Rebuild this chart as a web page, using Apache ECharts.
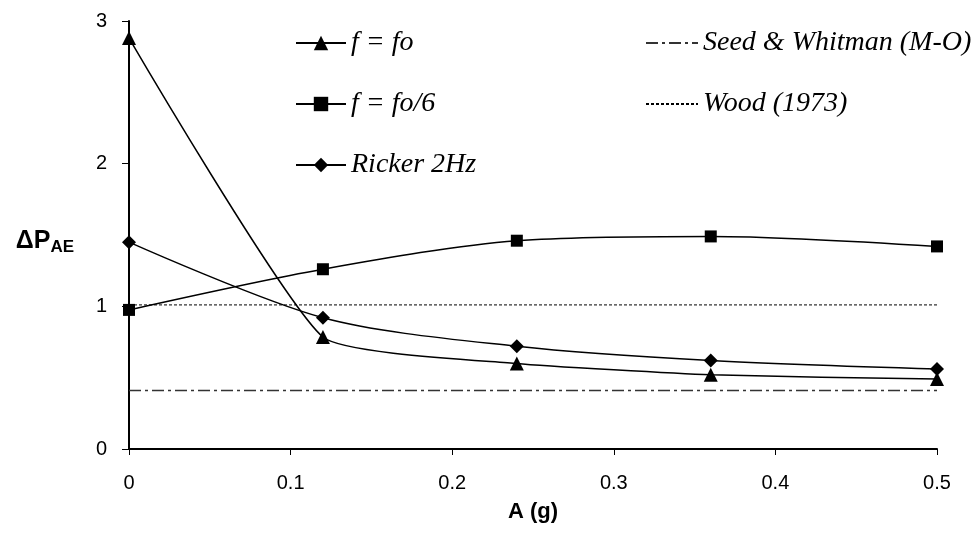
<!DOCTYPE html>
<html>
<head>
<meta charset="utf-8">
<script src="https://cdn.jsdelivr.net/npm/echarts@6/dist/echarts.min.js"></script>
<style>
  html, body { margin: 0; padding: 0; background: #fff; }
  #chart { width: 976px; height: 536px; }
</style>
</head>
<body>
<div id="chart"></div>
<script>
// 数据：横轴加速度 A(g)
const accel = [0, 0.12, 0.24, 0.36, 0.5]
const fFo = [2.88, 0.785, 0.60, 0.52, 0.49]
const fFo6 = [0.975, 1.26, 1.46, 1.49, 1.42]
const ricker = [1.45, 0.92, 0.72, 0.62, 0.56]
// 参考线
const seedWhitman = 0.41
const wood = 1.01
const xTicks = [0, 0.1, 0.2, 0.3, 0.4, 0.5]
const yTicks = [0, 1, 2, 3]

const pairs = vals => accel.map((x, i) => [x, vals[i]])
const flat = v => [[accel[0], v], [accel[accel.length - 1], v]]

const myChart = echarts.init(document.querySelector('#chart'))

const legendText = {
  fontFamily: 'Liberation Serif',
  fontStyle: 'italic',
  fontSize: 28,
  color: '#000'
}

const option = {
  animation: false,
  grid: {
    left: 129,
    right: 39,
    top: 21,
    bottom: 87
  },
  legend: [
    {
      data: ['f = fo', 'f = fo/6', 'Ricker 2Hz'],
      orient: 'vertical',
      left: 295,
      top: 29,
      padding: 0,
      itemWidth: 50,
      itemHeight: 18,
      itemGap: 33,
      textStyle: legendText
    },
    {
      data: [
        { name: 'Seed & Whitman (M-O)', itemStyle: { opacity: 0 } },
        { name: 'Wood (1973)', itemStyle: { opacity: 0 } }
      ],
      orient: 'vertical',
      left: 645,
      top: 29,
      padding: 0,
      itemWidth: 52,
      itemHeight: 18,
      itemGap: 33,
      textStyle: legendText
    }
  ],
  xAxis: {
    type: 'value',
    min: 0,
    max: 0.5,
    interval: 0.1,
    name: 'A (g)',
    nameLocation: 'middle',
    nameGap: 52,
    nameTextStyle: {
      fontFamily: 'Liberation Sans',
      fontWeight: 'bold',
      fontSize: 22,
      color: '#000'
    },
    axisLine: { lineStyle: { color: '#000', width: 2 } },
    axisTick: { show: true, inside: false, length: 6, lineStyle: { color: '#000', width: 1 } },
    axisLabel: {
      fontFamily: 'Liberation Sans',
      fontSize: 20,
      color: '#000',
      margin: 24,
      formatter: v => xTicks.includes(+v.toFixed(1)) ? String(+v.toFixed(1)) : ''
    },
    splitLine: { show: false }
  },
  yAxis: {
    type: 'value',
    min: 0,
    max: 3,
    interval: 1,
    name: '{a|ΔP}{b|AE}',
    nameLocation: 'middle',
    nameRotate: 0,
    nameGap: 55,
    nameTextStyle: {
      align: 'right',
      padding: [12, 0, 0, 0],
      rich: {
        a: { fontFamily: 'Liberation Sans', fontWeight: 'bold', fontSize: 25, color: '#000' },
        b: { fontFamily: 'Liberation Sans', fontWeight: 'bold', fontSize: 17, color: '#000', padding: [13, 0, 0, 0] }
      }
    },
    axisLine: { show: true, lineStyle: { color: '#000', width: 2 } },
    axisTick: { show: true, inside: false, length: 7, lineStyle: { color: '#000', width: 1 } },
    axisLabel: {
      fontFamily: 'Liberation Sans',
      fontSize: 20,
      color: '#000',
      margin: 22,
      formatter: v => yTicks.includes(v) ? String(v) : ''
    },
    splitLine: { show: false }
  },
  series: [
    {
      name: 'f = fo',
      type: 'line',
      data: pairs(fFo),
      smooth: 0.15,
      symbol: 'triangle',
      symbolSize: 14,
      itemStyle: { color: '#000' },
      lineStyle: { color: '#000', width: 1.5 }
    },
    {
      name: 'f = fo/6',
      type: 'line',
      data: pairs(fFo6),
      smooth: 0.3,
      symbol: 'rect',
      symbolSize: 12,
      itemStyle: { color: '#000' },
      lineStyle: { color: '#000', width: 1.5 }
    },
    {
      name: 'Ricker 2Hz',
      type: 'line',
      data: pairs(ricker),
      smooth: 0.3,
      symbol: 'diamond',
      symbolSize: 14,
      itemStyle: { color: '#000' },
      lineStyle: { color: '#000', width: 1.5 }
    },
    {
      name: 'Seed & Whitman (M-O)',
      type: 'line',
      data: flat(seedWhitman),
      symbol: 'none',
      itemStyle: { color: '#333' },
      lineStyle: { color: '#333', width: 1.5, type: [12, 4, 3, 4] }
    },
    {
      name: 'Wood (1973)',
      type: 'line',
      data: flat(wood),
      symbol: 'none',
      itemStyle: { color: '#000' },
      lineStyle: { color: '#000', width: 1, type: [3, 2] }
    }
  ]
}

myChart.setOption(option)
</script>
</body>
</html>
